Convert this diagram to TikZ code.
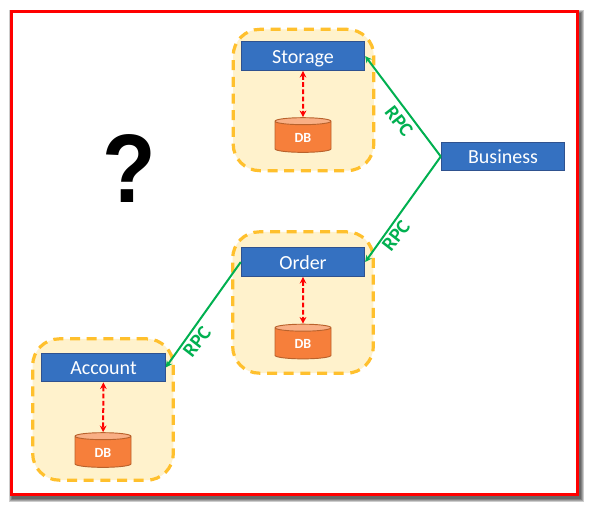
\documentclass[tikz,border=0pt]{standalone}
\usepackage{fontspec}
\setmainfont{Carlito}
\newfontfamily\markfont{Liberation Sans}
\usetikzlibrary{positioning,shapes.geometric,arrows.meta}
\definecolor{framered}{HTML}{FF0000}
\definecolor{panelline}{HTML}{FFC02D}
\definecolor{panelfill}{HTML}{FFF2CC}
\definecolor{boxfill}{HTML}{3571C1}
\definecolor{boxline}{HTML}{2F528F}
\definecolor{dbbody}{HTML}{F67F3B}
\definecolor{dbtop}{HTML}{F9AF85}
\definecolor{dbline}{HTML}{B9622C}
\definecolor{rpcgreen}{HTML}{00B050}
\tikzset{
  shade step/.style={preaction={draw=black,draw opacity=0.2,line width=#1,transform canvas={xshift=1.5pt,yshift=-2.2pt}}},
  frame/.style={shade step=7pt,shade step=5.5pt,shade step=4pt,shade step=2.5pt,draw=framered,line width=2.5pt,fill=white,minimum width=424.7pt,minimum height=362pt,inner sep=0pt},
  panel/.style={draw=panelline,fill=panelfill,line width=2.4pt,rounded corners=20pt,minimum width=105.5pt,minimum height=106pt,inner sep=0pt,
    dash pattern=on 7.5pt off 5pt},
  svc/.style={draw=boxline,fill=boxfill,line width=0.8pt,text=white,font=\fontsize{15}{15}\selectfont,minimum width=92.5pt,minimum height=21.5pt,inner sep=0pt,
    text height=13pt,text depth=2.5pt},
  db/.style={cylinder,shape border rotate=90,aspect=0.42,draw=dbline,line width=0.7pt,cylinder uses custom fill,cylinder body fill=dbbody,cylinder end fill=dbtop,
    text=white,font=\fontsize{10.5}{10.5}\selectfont\bfseries,minimum width=42pt,minimum height=26pt,inner sep=0pt,text height=8pt,text depth=0pt},
  rpc/.style={draw=rpcgreen,line width=1.5pt,-{Stealth[length=5pt,width=5pt]}},
  sql/.style={draw=red,line width=1.5pt,dash pattern=on 3.6pt off 1.8pt,{Stealth[length=5pt,width=5pt]}-{Stealth[length=5pt,width=5pt]}},
  rpclabel/.style={text=rpcgreen,font=\fontsize{15}{15}\selectfont\bfseries,inner sep=0pt}
}
\begin{document}
\begin{tikzpicture}[x=0.75pt,y=-0.75pt]
    \useasboundingbox (0,0) rectangle (590,507);
    \node [frame] (border) at (294.6,253) {};
    % panels
    \node [panel] (storagePanel) at (303.5,100) {};
    \node [panel] (orderPanel) at (303,302.5) {};
    \node [panel] (accountPanel) at (103,409.5) {};
    % services
    \node [svc] (storage) at (303,56) {Storage};
    \node [svc] (order) at (303,262) {Order};
    \node [svc] (account) at (103.5,367.5) {Account};
    \node [svc] (business) at (503,156.5) {Business};
    % databases
    \node [db] (storageDb) at (303,137) {DB};
    \node [db] (orderDb) at (303,343.5) {DB};
    \node [db] (accountDb) at (103,452) {DB};
    \draw [sql] (storage) -- (storageDb);
    \draw [sql] (order) -- (orderDb);
    \draw [sql] (account) -- (accountDb);
    % calls
    \draw [rpc] (business.west) -- (storage.east);
    \draw [rpc] (business.west) -- (order.east);
    \draw [rpc] (order.west) -- (account.east);
    \node [rpclabel,rotate=-52] (rpcA) at (399,121) {RPC};
    \node [rpclabel,rotate=52] (rpcB) at (396,236) {RPC};
    \node [rpclabel,rotate=52] (rpcC) at (197,342) {RPC};
    \node [font=\markfont\bfseries\fontsize{73}{73}\selectfont,xscale=0.9,inner sep=0pt] (question) at (129,169) {?};
\end{tikzpicture}
\end{document}
